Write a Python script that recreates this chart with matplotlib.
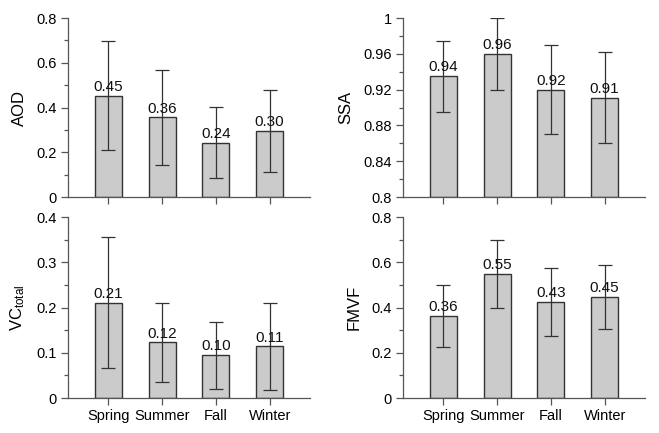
import matplotlib
matplotlib.use("Agg")
import matplotlib.pyplot as plt
from matplotlib.ticker import MultipleLocator, FuncFormatter

plt.rcParams['font.family'] = ['Liberation Sans', 'DejaVu Sans']
plt.rcParams['mathtext.fontset'] = 'custom'
plt.rcParams['mathtext.rm'] = 'Liberation Sans'
plt.rcParams['mathtext.it'] = 'Liberation Sans'

seasons = ['Spring', 'Summer', 'Fall', 'Winter']

aod = [0.453, 0.356, 0.243, 0.296]
aod_err = [0.245, 0.213, 0.158, 0.184]
aod_labels = ['0.45', '0.36', '0.24', '0.30']

ssa = [0.935, 0.960, 0.920, 0.911]
ssa_err = [0.0395, 0.040, 0.0495, 0.051]
ssa_labels = ['0.94', '0.96', '0.92', '0.91']

vc = [0.211, 0.123, 0.095, 0.114]
vc_err = [0.145, 0.088, 0.074, 0.097]
vc_labels = ['0.21', '0.12', '0.10', '0.11']

fmvf = [0.363, 0.547, 0.425, 0.447]
fmvf_err = [0.136, 0.150, 0.149, 0.143]
fmvf_labels = ['0.36', '0.55', '0.43', '0.45']

fig = plt.figure(figsize=(6.59, 4.33), dpi=100)

# [left, bottom, width, height] in figure fractions
boxes = [
    [0.1032, 0.545, 0.3672, 0.4134],
    [0.6115, 0.545, 0.3673, 0.4134],
    [0.1032, 0.0808, 0.3672, 0.418],
    [0.6115, 0.0808, 0.3673, 0.418],
]

panels = [
    (aod, aod_err, aod_labels, 'AOD', (0, 0.8), 0.2, False),
    (ssa, ssa_err, ssa_labels, 'SSA', (0.8, 1.0), 0.04, False),
    (vc, vc_err, vc_labels, r'VC$_{\mathrm{total}}$', (0, 0.4), 0.1, True),
    (fmvf, fmvf_err, fmvf_labels, 'FMVF', (0, 0.8), 0.2, True),
]

axis_color = '#555555'
x = [1, 2, 3, 4]

for box, (vals, errs, labels, ylab, ylim, step, show_x) in zip(boxes, panels):
    ax = fig.add_axes(box)
    base = ylim[0]
    ax.bar(x, [v - base for v in vals], bottom=base, width=0.5,
           color='#cbcbcb', edgecolor='#333333', linewidth=1.0, zorder=2)
    ax.errorbar(x, vals, yerr=errs, fmt='none', ecolor='#333333',
                elinewidth=0.9, capsize=4.7, capthick=0.9, zorder=3)
    span = ylim[1] - ylim[0]
    for xi, v, lab in zip(x, vals, labels):
        ax.text(xi, v + span * 0.01, lab, ha='center', va='bottom',
                fontsize=11, color='#111111', zorder=4)

    ax.set_xlim(0.25, 4.75)
    ax.set_ylim(*ylim)
    ax.set_xticks(x)
    if show_x:
        ax.set_xticklabels(seasons, fontsize=10.5)
    else:
        ax.set_xticklabels([])
    ax.yaxis.set_major_locator(MultipleLocator(step))
    ax.yaxis.set_minor_locator(MultipleLocator(step / 2))
    ax.yaxis.set_major_formatter(FuncFormatter(lambda v, p: ('%.2f' % v).rstrip('0').rstrip('.')))
    ax.set_ylabel(ylab, fontsize=12, labelpad=7)

    for s in ['top', 'right']:
        ax.spines[s].set_visible(False)
    for s in ['left', 'bottom']:
        ax.spines[s].set_color(axis_color)
        ax.spines[s].set_linewidth(0.9)
    ax.tick_params(axis='both', which='major', direction='out', length=5,
                   width=0.9, color=axis_color, labelsize=10.5, pad=3)
    ax.tick_params(axis='y', which='minor', direction='out', length=3,
                   width=0.9, color=axis_color)

fig.savefig('out.png', dpi=100)
